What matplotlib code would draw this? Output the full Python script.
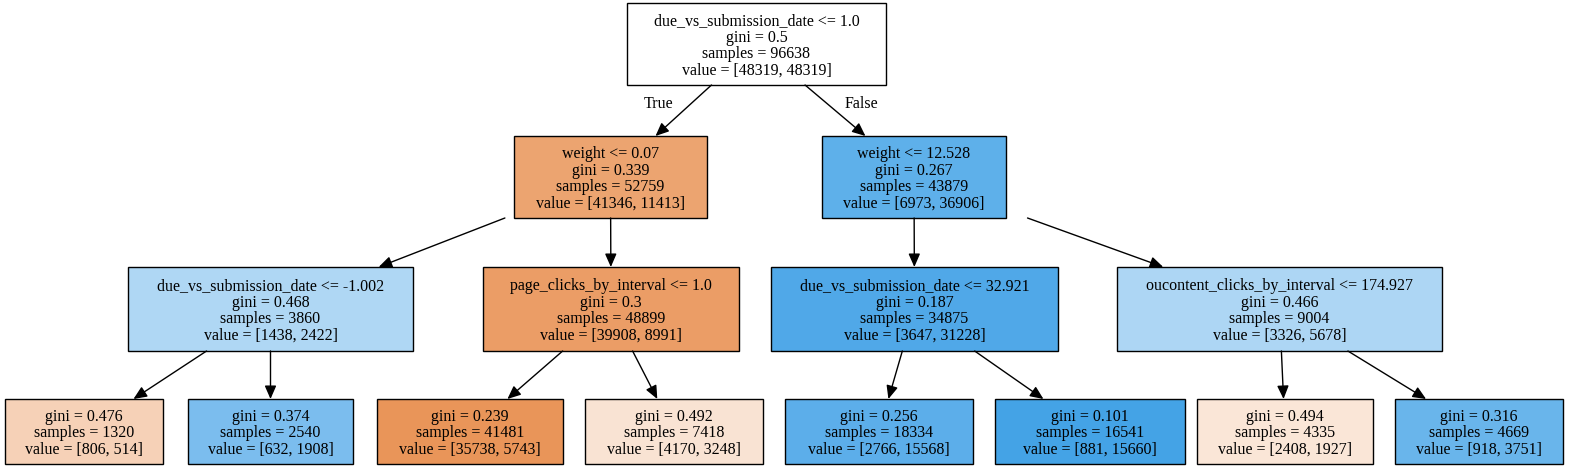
import matplotlib
matplotlib.use('Agg')
import matplotlib.pyplot as plt
from matplotlib.patches import Rectangle

# tree data
rules = ["due_vs_submission_date <= 1.0", "weight <= 0.07", "weight <= 12.528",
         "due_vs_submission_date <= -1.002", "page_clicks_by_interval <= 1.0",
         "due_vs_submission_date <= 32.921", "oucontent_clicks_by_interval <= 174.927",
         None, None, None, None, None, None, None, None]
ginis = [0.5, 0.339, 0.267, 0.468, 0.3, 0.187, 0.466,
         0.476, 0.374, 0.239, 0.492, 0.256, 0.101, 0.494, 0.316]
samples = [96638, 52759, 43879, 3860, 48899, 34875, 9004,
           1320, 2540, 41481, 7418, 18334, 16541, 4335, 4669]
values = [[48319, 48319], [41346, 11413], [6973, 36906], [1438, 2422], [39908, 8991],
          [3647, 31228], [3326, 5678], [806, 514], [632, 1908], [35738, 5743],
          [4170, 3248], [2766, 15568], [881, 15660], [2408, 1927], [918, 3751]]
edges = [(0, 1), (0, 2), (1, 3), (1, 4), (2, 5), (2, 6), (3, 7), (3, 8),
         (4, 9), (4, 10), (5, 11), (5, 12), (6, 13), (6, 14)]

# layout in pixels: x0, x1, y0, y1
boxes = [(627, 886, 4, 86), (514, 707, 137, 219), (822, 1006, 137, 219),
         (128, 413, 268, 352), (483, 739, 268, 352), (771, 1058, 268, 352), (1117, 1442, 268, 352),
         (5, 163, 400, 465), (188, 353, 400, 465), (377, 563, 400, 465), (585, 763, 400, 465),
         (785, 973, 400, 465), (995, 1185, 400, 465), (1197, 1373, 400, 465), (1395, 1563, 400, 465)]

cls_col = [(229, 129, 57), (57, 157, 229)]

def node_color(v):
    tot = float(sum(v))
    p = [a / tot for a in v]
    k = 0 if p[0] >= p[1] else 1
    s = min(p)
    a = 0.0 if s >= 0.5 else (p[k] - s) / (1 - s)
    return tuple((c * a + 255 * (1 - a)) / 255 for c in cls_col[k])

fig = plt.figure(figsize=(15.85, 4.77), dpi=100)
ax = fig.add_axes([0, 0, 1, 1])
ax.set_xlim(0, 1585)
ax.set_ylim(477, 0)
ax.axis('off')
font = dict(family='Liberation Serif', fontsize=11.5)

for i, (x0, x1, y0, y1) in enumerate(boxes):
    ax.add_patch(Rectangle((x0, y0), x1 - x0, y1 - y0, facecolor=node_color(values[i]),
                           edgecolor='black', lw=1))
    lines = []
    if rules[i]:
        lines.append(rules[i])
    lines.append("gini = %s" % ginis[i])
    lines.append("samples = %d" % samples[i])
    lines.append("value = [%d, %d]" % tuple(values[i]))
    ax.text((x0 + x1) / 2, (y0 + y1) / 2 + 1, "\n".join(lines), ha='center', va='center',
            linespacing=1.05, **font)

for p, c in edges:
    px0, px1, py0, py1 = boxes[p]
    cx0, cx1, cy0, cy1 = boxes[c]
    pcx, pcy = (px0 + px1) / 2, (py0 + py1) / 2
    ccx, ccy = (cx0 + cx1) / 2, (cy0 + cy1) / 2
    t0 = (py1 - pcy) / (ccy - pcy)
    t1 = (cy0 - pcy) / (ccy - pcy)
    sx, sy = pcx + t0 * (ccx - pcx), py1
    ex, ey = pcx + t1 * (ccx - pcx), cy0
    ax.annotate("", xy=(ex, ey), xytext=(sx, sy),
                arrowprops=dict(arrowstyle='-|>,head_length=0.8,head_width=0.35',
                                color='black', lw=1, shrinkA=0, shrinkB=0))

ax.text(659, 104, "True", ha='center', va='center', **font)
ax.text(861, 104, "False", ha='center', va='center', **font)

fig.savefig("out.png", dpi=100, facecolor='white')
